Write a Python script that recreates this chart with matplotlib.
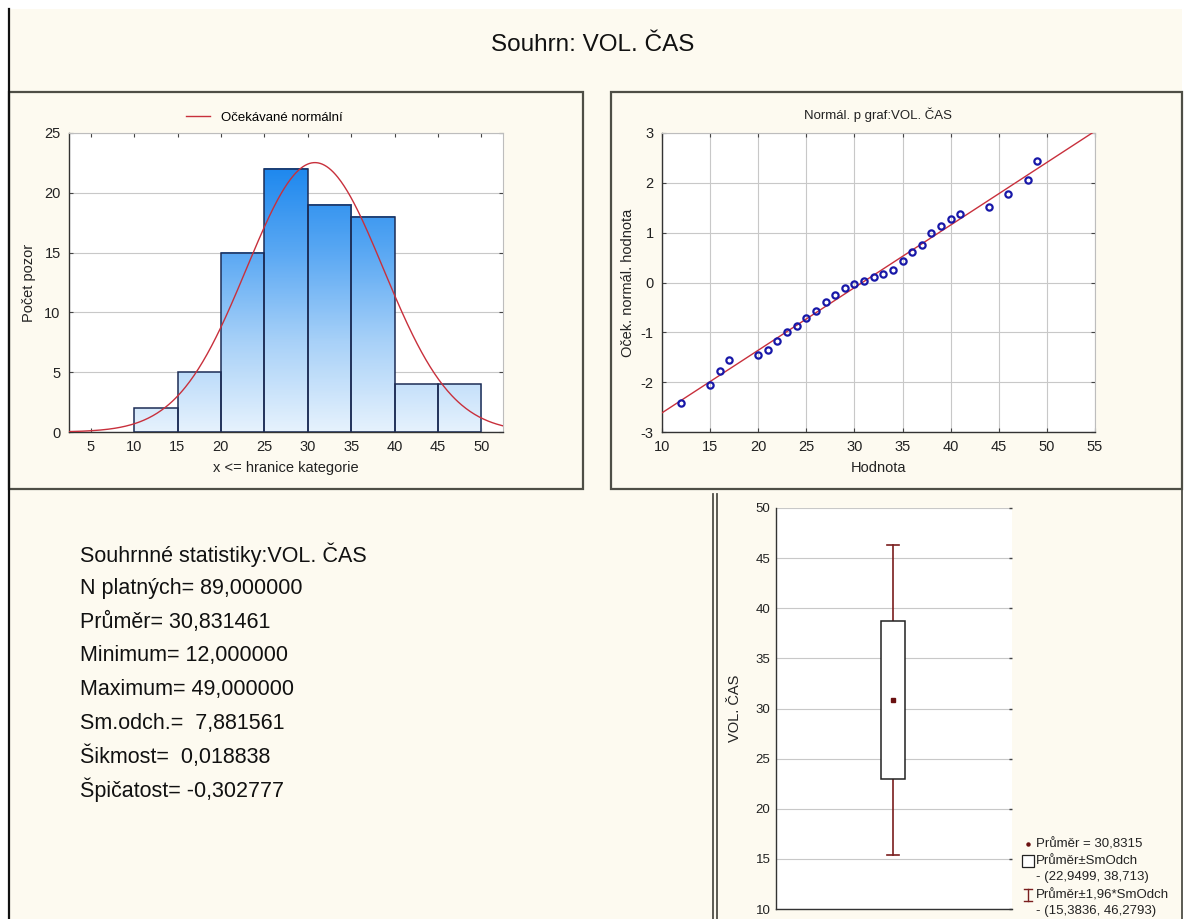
import numpy as np
import matplotlib
matplotlib.use("Agg")
import matplotlib.pyplot as plt
from matplotlib.colors import LinearSegmentedColormap, Normalize
from matplotlib.lines import Line2D
from matplotlib.patches import Rectangle

plt.rcParams['font.family'] = ['Liberation Sans', 'DejaVu Sans']
plt.rcParams['axes.unicode_minus'] = False

# ---- data -------------------------------------------------------------
bin_edges = [10, 15, 20, 25, 30, 35, 40, 45, 50]
bin_counts = [2, 5, 15, 22, 19, 18, 4, 4]

n_valid = 89
mean_val = 30.831461
min_val = 12.0
max_val = 49.0
sd_val = 7.881561
skew_val = 0.018838
kurt_val = -0.302777

# normal probability plot: observed value vs expected normal value
pp_values = [12, 15, 16, 17, 20, 21, 22, 23, 24, 25, 26, 27, 28, 29, 30,
             31, 32, 33, 34, 35, 36, 37, 38, 39, 40, 41, 44, 46, 48, 49]
pp_expected = [-2.42, -2.05, -1.78, -1.56, -1.46, -1.36, -1.18, -1.00, -0.87,
               -0.72, -0.58, -0.39, -0.26, -0.11, -0.03, 0.03, 0.11, 0.17,
               0.26, 0.44, 0.61, 0.76, 0.99, 1.13, 1.27, 1.38, 1.51, 1.78,
               2.06, 2.44]

hist_xticks = [5, 10, 15, 20, 25, 30, 35, 40, 45, 50]
pp_xticks = [10, 15, 20, 25, 30, 35, 40, 45, 50, 55]
pp_yticks = [-3, -2, -1, 0, 1, 2, 3]
box_yticks = [10, 15, 20, 25, 30, 35, 40, 45, 50]


def fmt(v, d):
    return f"{v:.{d}f}".replace(".", ",")


# ---- figure -----------------------------------------------------------
W, H = 1186, 919
fig = plt.figure(figsize=(W / 100, H / 100), dpi=100, facecolor='white')

CREAM = '#fdfaf0'
FRAME = '#4e4e46'
GRID = '#c8c8c8'


def fx(px):
    return px / W


def fy(py):
    return 1 - py / H


def add_line(x0, y0, x1, y1, color=FRAME, lw=1.5):
    fig.add_artist(Line2D([fx(x0), fx(x1)], [fy(y0), fy(y1)],
                          transform=fig.transFigure, color=color, lw=lw))


# cream page and panel frames
fig.add_artist(Rectangle((fx(9), 0), fx(1182) - fx(9), fy(9),
                         transform=fig.transFigure, facecolor=CREAM,
                         edgecolor='none', zorder=-10))
add_line(9, 9, 9, 919, color='#111111', lw=1.6)
fig.add_artist(Rectangle((fx(9), fy(489)), fx(583) - fx(9), fy(92) - fy(489),
                         transform=fig.transFigure, facecolor='none',
                         edgecolor=FRAME, lw=1.6))
fig.add_artist(Rectangle((fx(611), fy(489)), fx(1182) - fx(611), fy(92) - fy(489),
                         transform=fig.transFigure, facecolor='none',
                         edgecolor=FRAME, lw=1.6))
add_line(713, 494, 713, 919, lw=1.3)
add_line(717, 494, 717, 919, lw=1.3)
add_line(1182, 489, 1182, 919, lw=1.3)

fig.text(0.5, fy(45), "Souhrn: VOL. ČAS", ha='center', va='center',
         fontsize=17.5, color='#111111')


def style_axes(ax):
    ax.set_facecolor('white')
    for s in ('left', 'bottom'):
        ax.spines[s].set_color('#333333')
        ax.spines[s].set_linewidth(1.0)
    for s in ('top', 'right'):
        ax.spines[s].set_color('#bdbdbd')
        ax.spines[s].set_linewidth(0.8)
    ax.tick_params(direction='in', length=3, width=0.8, color='#444444',
                   labelsize=10.5, labelcolor='#222222', top=True, right=True,
                   pad=6)
    ax.set_axisbelow(True)


# ---- histogram with expected normal curve ------------------------------
ax1 = fig.add_axes([fx(69), fy(432), fx(503) - fx(69), fy(133) - fy(432)])
style_axes(ax1)
cmap = LinearSegmentedColormap.from_list(
    'bars', ['#e6f2fd', '#a8d1f8', '#5aa8f3', '#1a86ee'])
norm = Normalize(0, 22.5)
for left, right, h in zip(bin_edges[:-1], bin_edges[1:], bin_counts):
    grad = np.linspace(0, h, 200).reshape(-1, 1)
    ax1.imshow(grad, extent=[left, right, 0, h], origin='lower', cmap=cmap,
               norm=norm, aspect='auto', zorder=2, interpolation='bilinear')
    ax1.add_patch(Rectangle((left, 0), right - left, h, facecolor='none',
                            edgecolor='#1c2c55', lw=1.1, zorder=3))
xs = np.linspace(2.5, 52.5, 400)
bw = bin_edges[1] - bin_edges[0]
curve = n_valid * bw * np.exp(-0.5 * ((xs - mean_val) / sd_val) ** 2) / (
    sd_val * np.sqrt(2 * np.pi))
ax1.plot(xs, curve, color='#c8303c', lw=1.0, zorder=4,
         label='Očekávané normální')
ax1.set_xlim(2.5, 52.5)
ax1.set_ylim(0, 25)
ax1.set_xticks(hist_xticks)
ax1.set_yticks([0, 5, 10, 15, 20, 25])
ax1.yaxis.grid(True, color=GRID, lw=0.8)
ax1.set_xlabel("x <= hranice kategorie", fontsize=10.5, color='#222222', labelpad=5)
ax1.set_ylabel("Počet pozor", fontsize=10.5, color='#222222', labelpad=6)
ax1.legend(loc='lower center', bbox_to_anchor=(0.45, 1.0), frameon=False,
           fontsize=9.5, handlelength=1.8, borderaxespad=0.3)

# ---- normal probability plot --------------------------------------------
ax2 = fig.add_axes([fx(662), fy(432), fx(1095) - fx(662), fy(133) - fy(432)])
style_axes(ax2)
ax2.grid(True, color=GRID, lw=0.8)
slope, icpt = np.polyfit(pp_values, pp_expected, 1)
lx = np.array([10, 55])
ax2.plot(lx, slope * lx + icpt, color='#c8303c', lw=1.0, zorder=3)
ax2.plot(pp_values, pp_expected, linestyle='none', marker='o', ms=4.5,
         mfc='none', mec='#1818a8', mew=1.6, zorder=4)
ax2.set_xlim(10, 55)
ax2.set_ylim(-3, 3)
ax2.set_xticks(pp_xticks)
ax2.set_yticks(pp_yticks)
ax2.set_title("Normál. p graf:VOL. ČAS", fontsize=9.5, color='#222222', pad=10)
ax2.set_xlabel("Hodnota", fontsize=10.5, color='#222222', labelpad=5)
ax2.set_ylabel("Oček. normál. hodnota", fontsize=10.5, color='#222222', labelpad=4)

# ---- summary statistics text --------------------------------------------
stat_lines = [
    "Souhrnné statistiky:VOL. ČAS",
    f"N platných= {fmt(n_valid, 6)}",
    f"Průměr= {fmt(mean_val, 6)}",
    f"Minimum= {fmt(min_val, 6)}",
    f"Maximum= {fmt(max_val, 6)}",
    f"Sm.odch.=  {fmt(sd_val, 6)}",
    f"Šikmost=  {fmt(skew_val, 6)}",
    f"Špičatost= {fmt(kurt_val, 6)}",
]
for i, line in enumerate(stat_lines):
    fig.text(fx(80), fy(555 + i * 33.6), line, ha='left', va='center',
             fontsize=15.5, color='#111111')

# ---- box plot: mean, mean±SD, mean±1.96*SD -------------------------------
ax3 = fig.add_axes([fx(776), fy(909), fx(1012) - fx(776), fy(508) - fy(909)])
ax3.set_facecolor('white')
ax3.spines['top'].set_visible(False)
ax3.spines['right'].set_visible(False)
for s in ('left', 'bottom'):
    ax3.spines[s].set_color('#333333')
    ax3.spines[s].set_linewidth(1.0)
ax3.set_xlim(0, 2)
ax3.set_ylim(10, 50)
ax3.set_xticks([])
ax3.set_yticks(box_yticks)
ax3.tick_params(axis='y', direction='in', length=2, width=1.0, color='#444444',
                labelsize=9.5, labelcolor='#222222', right=True, left=False, pad=4)
ax3.yaxis.grid(True, color=GRID, lw=0.8)
ax3.set_axisbelow(True)
ax3.set_ylabel("VOL. ČAS", fontsize=10.5, color='#222222', labelpad=10)

lo1, hi1 = mean_val - sd_val, mean_val + sd_val
lo2, hi2 = mean_val - 1.96 * sd_val, mean_val + 1.96 * sd_val
cx, bwid, cwid = 0.99, 0.2, 0.105
WHISK = '#7a1e1e'
ax3.plot([cx, cx], [lo2, lo1], color=WHISK, lw=1.2, zorder=3)
ax3.plot([cx, cx], [hi1, hi2], color=WHISK, lw=1.2, zorder=3)
ax3.plot([cx - cwid / 2, cx + cwid / 2], [lo2, lo2], color=WHISK, lw=1.2, zorder=3)
ax3.plot([cx - cwid / 2, cx + cwid / 2], [hi2, hi2], color=WHISK, lw=1.2, zorder=3)
ax3.add_patch(Rectangle((cx - bwid / 2, lo1), bwid, hi1 - lo1, facecolor='white',
                        edgecolor='#222222', lw=1.1, zorder=3))
ax3.plot([cx], [mean_val], marker='s', ms=2.5, color='#6a1010', zorder=4)

# legend entries for the box plot
leg_fs = 9.5
fig.text(fx(1036), fy(844), "Průměr = " + fmt(mean_val, 4), ha='left',
         va='center', fontsize=leg_fs, color='#222222')
fig.add_artist(Line2D([fx(1028)], [fy(844)], transform=fig.transFigure,
                      marker='o', ms=2.2, color='#6a1010'))
fig.text(fx(1036), fy(861), "Průměr±SmOdch", ha='left', va='center',
         fontsize=leg_fs, color='#222222')
fig.add_artist(Line2D([fx(1028)], [fy(861)], transform=fig.transFigure,
                      marker='s', ms=8, mfc='white', mec='#222222', mew=0.9))
fig.text(fx(1036), fy(877), f"- ({fmt(lo1, 4)}, {fmt(hi1, 3)})", ha='left',
         va='center', fontsize=leg_fs, color='#222222')
fig.text(fx(1036), fy(895), "Průměr±1,96*SmOdch", ha='left', va='center',
         fontsize=leg_fs, color='#222222')
fig.add_artist(Line2D([fx(1028), fx(1028)], [fy(889), fy(901)],
                      transform=fig.transFigure, color=WHISK, lw=1.0))
fig.add_artist(Line2D([fx(1024), fx(1032)], [fy(889), fy(889)],
                      transform=fig.transFigure, color=WHISK, lw=1.0))
fig.add_artist(Line2D([fx(1024), fx(1032)], [fy(901), fy(901)],
                      transform=fig.transFigure, color=WHISK, lw=1.0))
fig.text(fx(1036), fy(911), f"- ({fmt(lo2, 4)}, {fmt(hi2, 4)})", ha='left',
         va='center', fontsize=leg_fs, color='#222222')

fig.savefig("out.png", dpi=100, facecolor='white')
